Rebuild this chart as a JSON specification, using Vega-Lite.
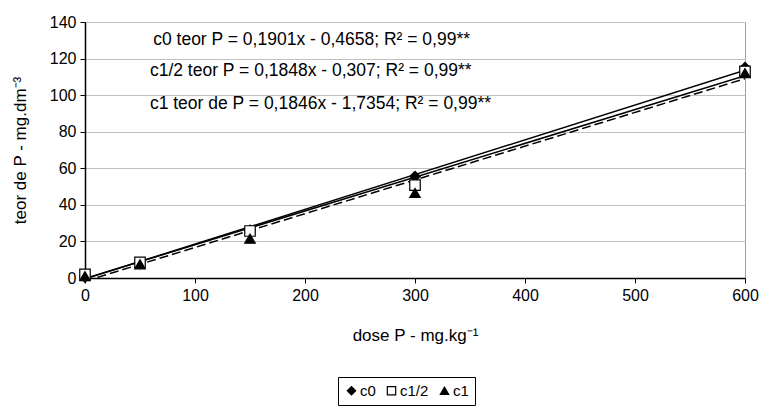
{
  "$schema": "https://vega.github.io/schema/vega-lite/v6.json",
  "autosize": {"type": "none"},
  "width": 660,
  "height": 256,
  "padding": {"left": 85, "top": 22, "right": 19, "bottom": 133},
  "background": "white",
  "config": {
    "font": "Liberation Sans",
    "view": {"stroke": "#a0a0a0", "strokeWidth": 1}
  },
  "datasets": {
    "points": [
      {"dose": 0, "teor": 0.5, "serie": "c0"},
      {"dose": 50, "teor": 8, "serie": "c0"},
      {"dose": 150, "teor": 26, "serie": "c0"},
      {"dose": 300, "teor": 55.5, "serie": "c0"},
      {"dose": 600, "teor": 115, "serie": "c0"},
      {"dose": 0, "teor": 2, "serie": "c1/2"},
      {"dose": 50, "teor": 8.5, "serie": "c1/2"},
      {"dose": 150, "teor": 25.7, "serie": "c1/2"},
      {"dose": 300, "teor": 50.8, "serie": "c1/2"},
      {"dose": 600, "teor": 113, "serie": "c1/2"},
      {"dose": 0, "teor": 1, "serie": "c1"},
      {"dose": 50, "teor": 7.5, "serie": "c1"},
      {"dose": 150, "teor": 21.5, "serie": "c1"},
      {"dose": 300, "teor": 46.5, "serie": "c1"},
      {"dose": 600, "teor": 112, "serie": "c1"}
    ],
    "trend": [
      {"dose": 0, "teor": -0.47, "serie": "c0"},
      {"dose": 600, "teor": 113.59, "serie": "c0"},
      {"dose": 0, "teor": -0.31, "serie": "c1/2"},
      {"dose": 600, "teor": 110.57, "serie": "c1/2"},
      {"dose": 0, "teor": -1.74, "serie": "c1"},
      {"dose": 600, "teor": 109.02, "serie": "c1"}
    ],
    "eqs": [
      {"dose": 62, "teor": 130, "label": "c0 teor P = 0,1901x - 0,4658; R² = 0,99**"},
      {"dose": 59, "teor": 113, "label": "c1/2 teor P = 0,1848x - 0,307; R² = 0,99**"},
      {"dose": 59, "teor": 95, "label": "c1 teor de P = 0,1846x - 1,7354; R² = 0,99**"}
    ]
  },
  "layer": [
    {
      "data": {"name": "trend"},
      "transform": [{"filter": "datum.serie != 'c1'"}],
      "mark": {"type": "line", "color": "black", "strokeWidth": 1.5, "clip": true},
      "encoding": {
        "x": {
          "field": "dose", "type": "quantitative",
          "scale": {"domain": [0, 600], "nice": false},
          "axis": {
            "values": [0, 100, 200, 300, 400, 500, 600],
            "title": "dose P - mg.kg⁻¹",
            "grid": false, "labelFlush": false, "labelOverlap": false,
            "domainColor": "black", "domainWidth": 1.5,
            "tickColor": "black", "tickSize": 5,
            "labelFontSize": 16, "labelColor": "black", "labelPadding": 4,
            "titleFontSize": 17, "titleFontWeight": "normal", "titleColor": "black", "titlePadding": 24
          }
        },
        "y": {
          "field": "teor", "type": "quantitative",
          "scale": {"domain": [0, 140], "nice": false},
          "axis": {
            "values": [0, 20, 40, 60, 80, 100, 120, 140],
            "tickCount": 8,
            "title": "teor de P - mg.dm⁻³",
            "grid": true, "gridColor": "#c0c0c0", "gridWidth": 1,
            "labelFlush": false, "labelOverlap": false,
            "domainColor": "black", "domainWidth": 1.5,
            "tickColor": "black", "tickSize": 5,
            "labelFontSize": 16, "labelColor": "black", "labelPadding": 4,
            "titleFontSize": 17, "titleFontWeight": "normal", "titleColor": "black", "titlePadding": 20
          }
        },
        "detail": {"field": "serie"}
      }
    },
    {
      "data": {"name": "trend"},
      "transform": [{"filter": "datum.serie == 'c1'"}],
      "mark": {"type": "line", "color": "black", "strokeWidth": 1.5, "strokeDash": [9, 4], "clip": true},
      "encoding": {
        "x": {"field": "dose", "type": "quantitative"},
        "y": {"field": "teor", "type": "quantitative"}
      }
    },
    {
      "data": {"name": "points"},
      "mark": {"type": "point", "filled": false, "stroke": "black", "strokeWidth": 1.2, "opacity": 1, "size": 110},
      "encoding": {
        "x": {"field": "dose", "type": "quantitative"},
        "y": {"field": "teor", "type": "quantitative"},
        "shape": {
          "field": "serie", "type": "nominal", "title": null,
          "scale": {"domain": ["c0", "c1/2", "c1"], "range": ["diamond", "square", "triangle-up"]},
          "legend": {
            "orient": "none", "legendX": 253, "legendY": 355, "direction": "horizontal",
            "strokeColor": "black", "padding": 6, "labelFontSize": 15, "labelColor": "black",
            "symbolSize": 70, "columnPadding": 8, "labelOffset": 1,
            "symbolStrokeColor": "black", "symbolStrokeWidth": 1.2, "symbolOpacity": 1,
            "encode": {"symbols": {"update": {"stroke": {"value": "black"}, "strokeWidth": {"value": 1.2}}}}
          }
        },
        "fill": {
          "field": "serie", "type": "nominal", "title": null,
          "scale": {"domain": ["c0", "c1/2", "c1"], "range": ["black", "white", "black"]},
          "legend": {
            "orient": "none", "legendX": 253, "legendY": 355, "direction": "horizontal",
            "strokeColor": "black", "padding": 6, "labelFontSize": 15, "labelColor": "black",
            "symbolSize": 70, "columnPadding": 8, "labelOffset": 1,
            "symbolStrokeColor": "black", "symbolStrokeWidth": 1.2, "symbolOpacity": 1,
            "encode": {"symbols": {"update": {"stroke": {"value": "black"}, "strokeWidth": {"value": 1.2}}}}
          }
        }
      }
    },
    {
      "data": {"name": "eqs"},
      "mark": {"type": "text", "align": "left", "baseline": "middle", "fontSize": 17.5, "color": "black"},
      "encoding": {
        "x": {"field": "dose", "type": "quantitative"},
        "y": {"field": "teor", "type": "quantitative"},
        "text": {"field": "label"}
      }
    }
  ]
}
